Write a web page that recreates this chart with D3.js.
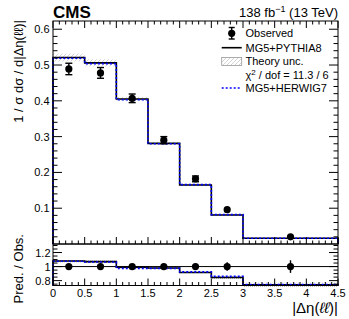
<!DOCTYPE html>
<html><head><meta charset="utf-8">
<script src="https://cdn.jsdelivr.net/npm/d3@7"></script>
<style>body{margin:0;background:#fff}svg{display:block;font-family:"Liberation Sans",Arial,sans-serif}</style>
</head><body><svg id="c" width="349" height="319"></svg>
<script>
// ---- data ----
const binEdges = [0, 0.5, 1, 1.5, 2, 2.5, 3, 4.5];
const observed = [0.489, 0.478, 0.407, 0.290, 0.182, 0.096, 0.020];
const observedErr = [0.016, 0.015, 0.012, 0.010, 0.008, 0.004, 0.002];
const pythia = [0.521, 0.506, 0.405, 0.281, 0.165, 0.081, 0.016];
const theoryUnc = [0.011, 0.010, 0.006, 0.004, 0.003, 0.002, 0.001];
const herwig = [0.519, 0.504, 0.403, 0.280, 0.166, 0.082, 0.016];
const ratioPythia = [1.08, 1.07, 0.99, 0.98, 0.915, 0.845, 0.74];
const ratioHerwig = [1.075, 1.065, 0.975, 0.975, 0.925, 0.86, 0.745];
const ratioTheoryUnc = [0.02, 0.018, 0.015, 0.015, 0.018, 0.025, 0.03];
const ratioObsErr = [0.033, 0.032, 0.03, 0.035, 0.045, 0.06, 0.09];
const mainYTicks = [0.1, 0.2, 0.3, 0.4, 0.5, 0.6];
const ratioYTicks = [0.8, 1, 1.2];
const xTicks = [0, 0.5, 1, 1.5, 2, 2.5, 3, 3.5, 4, 4.5];

const svg = d3.select("#c");
const L = 53, R = 338, T = 21, MB = 244, RB = 285.5;
const x = d3.scaleLinear().domain([0, 4.5]).range([L, R]);
const y = d3.scaleLinear().domain([0, 0.623]).range([MB, T]);
const yr = d3.scaleLinear().domain([0.7305, 1.3214]).range([RB, MB]);

const defs = svg.append("defs");
const pat = defs.append("pattern").attr("id","hatch").attr("patternUnits","userSpaceOnUse")
  .attr("width",4).attr("height",4);
pat.append("path").attr("d","M-1,5 L5,-1 M3,5 L5,3 M-1,1 L1,-1").attr("stroke","#b5b5b5").attr("stroke-width",0.6);
const dots = defs.append("pattern").attr("id","dots").attr("patternUnits","userSpaceOnUse")
  .attr("width",2).attr("height",2);
dots.append("rect").attr("width",1).attr("height",1).attr("fill","#bbb");

const bins = pythia.map((v,i)=>({i, x0:binEdges[i], x1:binEdges[i+1]}));

function stepPath(vals, ys){
  let p = "";
  vals.forEach((v,i)=>{
    const a = x(binEdges[i]), b = x(binEdges[i+1]), yy = ys(v);
    p += (i===0 ? `M${a},${ys.range()[0]}L${a},${yy}` : `L${a},${yy}`) + `L${b},${yy}`;
  });
  p += `L${x(binEdges[binEdges.length-1])},${ys.range()[0]}`;
  return p;
}

// ---- main panel ----
const gm = svg.append("g");
gm.selectAll("rect.unc").data(bins).join("rect")
  .attr("x",d=>x(d.x0)).attr("width",d=>x(d.x1)-x(d.x0))
  .attr("y",d=>y(pythia[d.i]+theoryUnc[d.i])).attr("height",d=>y(pythia[d.i]-theoryUnc[d.i])-y(pythia[d.i]+theoryUnc[d.i]))
  .attr("fill","url(#hatch)");
gm.append("path").attr("d",stepPath(pythia,y)).attr("fill","none").attr("stroke","#000").attr("stroke-width",1.6);
gm.append("path").attr("d",stepPath(herwig,y)).attr("fill","none").attr("stroke","#0000ff").attr("stroke-width",1.6).attr("stroke-dasharray","2,2");
// observed
const obsG = gm.selectAll("g.obs").data(bins).join("g");
obsG.append("line").attr("x1",d=>x((d.x0+d.x1)/2)).attr("x2",d=>x((d.x0+d.x1)/2))
  .attr("y1",d=>y(observed[d.i]-observedErr[d.i])).attr("y2",d=>y(observed[d.i]+observedErr[d.i]))
  .attr("stroke","#000").attr("stroke-width",1.4);
obsG.each(function(d){
  if (observedErr[d.i] < 0.006) return;
  const g = d3.select(this), cx = x((d.x0+d.x1)/2);
  [observed[d.i]-observedErr[d.i], observed[d.i]+observedErr[d.i]].forEach(v=>{
    g.append("line").attr("x1",cx-3.5).attr("x2",cx+3.5).attr("y1",y(v)).attr("y2",y(v)).attr("stroke","#000").attr("stroke-width",1.4);
  });
});
obsG.append("circle").attr("cx",d=>x((d.x0+d.x1)/2)).attr("cy",d=>y(observed[d.i])).attr("r",3.6).attr("fill","#000");

// ---- ratio panel ----
const gr = svg.append("g");
gr.selectAll("rect.unc").data(bins).join("rect")
  .attr("x",d=>x(d.x0)).attr("width",d=>x(d.x1)-x(d.x0))
  .attr("y",d=>yr(ratioPythia[d.i]+ratioTheoryUnc[d.i])).attr("height",d=>yr(ratioPythia[d.i]-ratioTheoryUnc[d.i])-yr(ratioPythia[d.i]+ratioTheoryUnc[d.i]))
  .attr("fill","url(#dots)");
gr.append("line").attr("x1",L).attr("x2",R).attr("y1",yr(1)).attr("y2",yr(1)).attr("stroke","#000").attr("stroke-width",1);
gr.append("path").attr("d",stepPath(ratioPythia,yr)).attr("fill","none").attr("stroke","#000").attr("stroke-width",1.6);
gr.append("path").attr("d",stepPath(ratioHerwig,yr)).attr("fill","none").attr("stroke","#0000ff").attr("stroke-width",1.6).attr("stroke-dasharray","2,2");
gr.selectAll("line.re").data(bins).join("line")
  .attr("x1",d=>x((d.x0+d.x1)/2)).attr("x2",d=>x((d.x0+d.x1)/2))
  .attr("y1",d=>yr(1-ratioObsErr[d.i])).attr("y2",d=>yr(1+ratioObsErr[d.i]))
  .attr("stroke","#000").attr("stroke-width",1.4);
gr.selectAll("circle").data(bins).join("circle")
  .attr("cx",d=>x((d.x0+d.x1)/2)).attr("cy",yr(1)).attr("r",3.6).attr("fill","#000");

// ---- frames & ticks ----
const ax = svg.append("g").attr("stroke","#000").attr("stroke-width",1);
function vTicks(scale, vals, len){
  vals.forEach(v=>{
    const yy = scale(v);
    ax.append("line").attr("x1",L).attr("x2",L+len).attr("y1",yy).attr("y2",yy);
    ax.append("line").attr("x1",R).attr("x2",R-len).attr("y1",yy).attr("y2",yy);
  });
}
function hTicks(vals, len, yBot, yTop){
  vals.forEach(v=>{
    const xx = x(v);
    if (yBot!==null) ax.append("line").attr("x1",xx).attr("x2",xx).attr("y1",yBot).attr("y2",yBot-len);
    if (yTop!==null) ax.append("line").attr("x1",xx).attr("x2",xx).attr("y1",yTop).attr("y2",yTop+len);
  });
}
const minorX = d3.range(0, 45).map(k=>k/10).filter(v=>Math.abs(v*2-Math.round(v*2))>1e-6);
const minorYmain = d3.range(1, 31).map(k=>k*0.02).filter(v=>Math.abs(v*10-Math.round(v*10))>1e-6);
const minorYr = d3.range(0.75, 1.32, 0.05).filter(v=>Math.abs(v*5-Math.round(v*5))>1e-6);
vTicks(y, mainYTicks, 9); vTicks(y, minorYmain, 4.5);
vTicks(yr, ratioYTicks, 9); vTicks(yr, minorYr, 4.5);
hTicks(xTicks, 7, MB, T); hTicks(minorX, 3.5, MB, T);
hTicks(xTicks, 7, RB, null); hTicks(minorX, 3.5, RB, null);
ax.append("rect").attr("x",L).attr("y",T).attr("width",R-L).attr("height",MB-T).attr("fill","none");
ax.append("rect").attr("x",L).attr("y",MB).attr("width",R-L).attr("height",RB-MB).attr("fill","none");

// tick labels
const tl = svg.append("g").attr("font-size",11).attr("fill","#000");
tl.selectAll("text.ym").data(mainYTicks).join("text").attr("x",49.5).attr("y",d=>y(d)+4).attr("text-anchor","end").text(d=>d3.format(".1f")(d));
tl.selectAll("text.yr").data(ratioYTicks).join("text").attr("x",50.5).attr("y",d=>yr(d)+4).attr("text-anchor","end").text(d=>d3.format("~g")(d));
tl.selectAll("text.x").data(xTicks).join("text").attr("x",d=>x(d)).attr("y",297).attr("text-anchor","middle").text(d=>d3.format("~g")(d));

// axis titles
svg.append("text").attr("transform","translate(23,20) rotate(-90)").attr("text-anchor","end").attr("font-size",13)
  .text("1 / σ dσ / d|Δη(ℓℓ)|");
svg.append("text").attr("transform","translate(23,234) rotate(-90)").attr("text-anchor","end").attr("font-size",13)
  .text("Pred. / Obs.");
const xl = svg.append("text").attr("x",338).attr("y",313).attr("text-anchor","end").attr("font-size",15);
xl.append("tspan").text("|Δη(");
xl.append("tspan").attr("font-style","italic").text("ℓℓ");
xl.append("tspan").text(")|");

// header
svg.append("text").attr("x",53).attr("y",18).attr("font-size",17).attr("font-weight","bold").text("CMS");
const lum = svg.append("text").attr("x",338).attr("y",17).attr("text-anchor","end").attr("font-size",13);
lum.append("tspan").text("138 fb");
lum.append("tspan").attr("dy",-5).attr("font-size",9).text("−1");
lum.append("tspan").attr("dy",5).text(" (13 TeV)");

// legend
const lg = svg.append("g").attr("font-size",11);
const lx = 221.7, lw = 20, tx = 245.5;
lg.append("line").attr("x1",lx+lw/2).attr("x2",lx+lw/2).attr("y1",27.5).attr("y2",39).attr("stroke","#000").attr("stroke-width",1.4);
[27.5,39].forEach(v=>lg.append("line").attr("x1",lx+lw/2-3).attr("x2",lx+lw/2+3).attr("y1",v).attr("y2",v).attr("stroke","#000").attr("stroke-width",1.4));
lg.append("circle").attr("cx",lx+lw/2).attr("cy",33.3).attr("r",3.6);
lg.append("text").attr("x",tx).attr("y",37).text("Observed");
lg.append("line").attr("x1",lx).attr("x2",lx+lw).attr("y1",47.7).attr("y2",47.7).attr("stroke","#000").attr("stroke-width",1.6);
lg.append("text").attr("x",tx).attr("y",51.5).text("MG5+PYTHIA8");
lg.append("rect").attr("x",lx).attr("y",57.5).attr("width",lw).attr("height",8).attr("fill","url(#hatch)").attr("stroke","#999").attr("stroke-width",0.8);
lg.append("text").attr("x",tx).attr("y",65).text("Theory unc.");
const chi = lg.append("text").attr("x",tx).attr("y",78.5);
chi.append("tspan").text("χ");
chi.append("tspan").attr("dy",-4).attr("font-size",8).text("2");
chi.append("tspan").attr("dy",4).text(" / dof = 11.3 / 6");
lg.append("line").attr("x1",lx).attr("x2",lx+lw).attr("y1",88).attr("y2",88).attr("stroke","#0000ff").attr("stroke-width",1.6).attr("stroke-dasharray","2,2");
lg.append("text").attr("x",tx).attr("y",92).text("MG5+HERWIG7");
</script></body></html>
